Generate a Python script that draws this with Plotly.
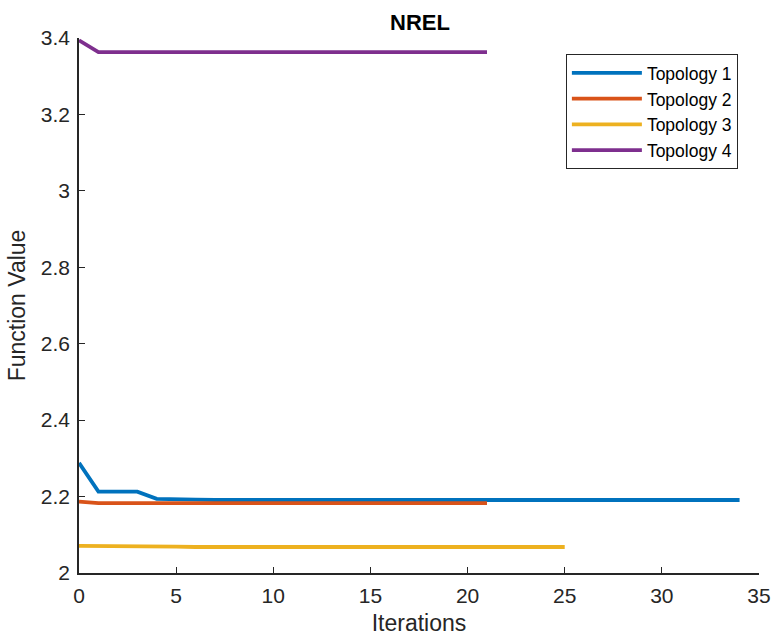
import plotly.graph_objects as go

iters1 = list(range(0, 35))
topo1 = [2.288, 2.213, 2.213, 2.213, 2.194, 2.194, 2.192] + [2.191] * 28
iters2 = list(range(0, 22))
topo2 = [2.187] + [2.183] * 21
iters3 = list(range(0, 26))
topo3 = [2.071, 2.071, 2.071, 2.069, 2.069, 2.069] + [2.068] * 20
iters4 = list(range(0, 22))
topo4 = [3.394] + [3.363] * 21

names = ["Topology 1", "Topology 2", "Topology 3", "Topology 4"]
colors = ["#0072BD", "#D95319", "#EDB120", "#7E2F8E"]
xs = [iters1, iters2, iters3, iters4]
ys = [topo1, topo2, topo3, topo4]

x_ticks = [0, 5, 10, 15, 20, 25, 30, 35]
y_ticks = [2, 2.2, 2.4, 2.6, 2.8, 3, 3.2, 3.4]
y_labels = ["2", "2.2", "2.4", "2.6", "2.8", "3", "3.2", "3.4"]

fig = go.Figure()
for x, y, n, c in zip(xs, ys, names, colors):
    fig.add_trace(go.Scatter(x=x, y=y, mode="lines", name=n,
                             line=dict(color=c, width=3.8)))

axis_common = dict(showgrid=False, zeroline=False, showline=True,
                   linecolor="#262626", linewidth=1.5, ticks="inside",
                   tickcolor="#262626", ticklen=6, tickwidth=1.2,
                   tickfont=dict(size=21, color="#262626"), mirror=False,
                   automargin=False, ticklabeloverflow="allow")

W, H = 773, 636
L, R, T, B = 78.5, 14, 38, 63

fig.update_layout(
    width=W, height=H,
    margin=dict(l=L, r=R, t=T, b=B, autoexpand=False),
    paper_bgcolor="white", plot_bgcolor="white",
    font=dict(family="Liberation Sans, Arial, sans-serif", color="#262626"),
    title=dict(text="<b>NREL</b>", x=420 / W, xanchor="center",
               y=1 - 22 / H, yanchor="middle", font=dict(size=22, color="black"),
               automargin=False),
    xaxis=dict(range=[0, 35], tickvals=x_ticks, ticklabelstandoff=3,
               title=dict(text="Iterations", font=dict(size=23), standoff=22),
               **axis_common),
    yaxis=dict(range=[2, 3.4], tickvals=y_ticks, ticktext=y_labels,
               ticklabelstandoff=3,
               title=dict(text="Function Value", font=dict(size=23), standoff=9),
               **axis_common),
    legend=dict(x=0.716, y=0.970, xanchor="left", yanchor="top",
                bordercolor="#262626", borderwidth=1, bgcolor="white",
                font=dict(size=17.5, color="black"), tracegroupgap=0,
                itemwidth=70),
)

fig.write_html(
    "out.html",
    config={"displayModeBar": False},
    post_script="document.body.style.margin='0';document.body.style.overflow='hidden';",
)
